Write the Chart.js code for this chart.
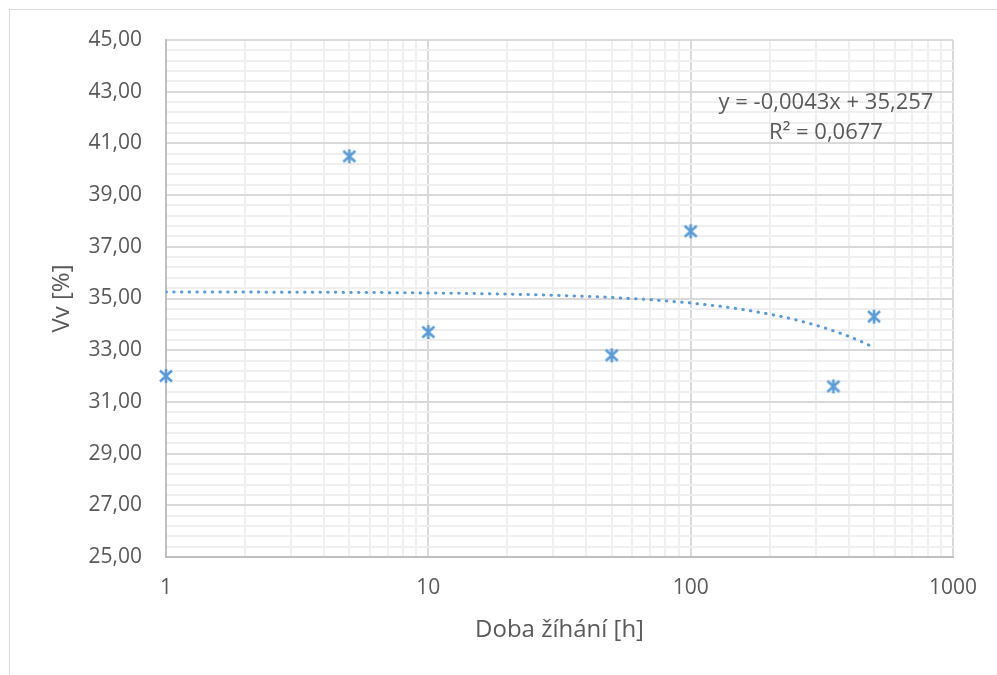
<!DOCTYPE html>
<html>
<head>
<meta charset="utf-8">
<script src="https://cdn.jsdelivr.net/npm/chart.js@4/dist/chart.umd.min.js"></script>
<style>
  html, body { margin: 0; padding: 0; background: #fff; }
  #frame { position: absolute; left: 9px; top: 9px; width: 1000px; height: 700px; border: 1px solid #d9d9d9; }
  #wrap { position: absolute; left: 0; top: 0; width: 997px; height: 675px; }
</style>
</head>
<body>
<div id="frame"></div>
<div id="wrap"><canvas id="chart" width="997" height="675"></canvas></div>
<script>
// Measured points (doba zihani vs Vv)
const xValues = [1, 5, 10, 50, 100, 350, 500];
const yValues = [32.0, 40.5, 33.7, 32.8, 37.6, 31.6, 34.3];

// Linear trendline shown on the chart
const trendSlope = -0.0043;
const trendIntercept = 35.257;
const trendX = [1, 2, 3, 5, 7, 10, 15, 20, 30, 40, 50, 70, 100, 130, 160, 200, 240, 280, 320, 360, 400, 450, 500];

// Axis ticks
const yMajorTicks = [25, 27, 29, 31, 33, 35, 37, 39, 41, 43, 45];
const yTickLabels = ['25,00', '27,00', '29,00', '31,00', '33,00', '35,00', '37,00', '39,00', '41,00', '43,00', '45,00'];
const xMajorTicks = [1, 10, 100, 1000];
const xTickLabels = ['1', '10', '100', '1000'];

const equationText = 'y = -0,0043x + 35,257';
const r2Text = 'R² = 0,0677';

const blue = '#5B9BD5';
const textGray = '#595959';
const fontFamily = '"Open Sans", "Noto Sans", sans-serif';

// star marker like Excel's "*"
function makeStar() {
    const c = document.createElement('canvas');
    c.width = 18; c.height = 18;
    const g = c.getContext('2d');
    g.strokeStyle = blue;
    g.lineWidth = 2.6;
    g.beginPath();
    g.moveTo(3, 3.5); g.lineTo(15, 14.5);
    g.moveTo(15, 3.5); g.lineTo(3, 14.5);
    g.moveTo(9, 2); g.lineTo(9, 16);
    g.stroke();
    return c;
}

const points = xValues.map((x, i) => ({ x: x, y: yValues[i] }));
const trend = trendX.map(x => ({ x: x, y: trendSlope * x + trendIntercept }));

// minor grid every 0.4 on y, 1..9 per decade on x
const yTicks = [];
for (let k = 0; k <= 50; k++) yTicks.push(Math.round((25 + k * 0.4) * 10) / 10);
const xTicks = [];
for (let d = 1; d <= 100; d *= 10) {
    for (let m = 1; m <= 9; m++) xTicks.push(m * d);
}
xTicks.push(1000);

function isMajor(list, v) {
    return list.some(t => Math.abs(t - v) < 1e-6);
}

const equationPlugin = {
    id: 'equation',
    afterDatasetsDraw(chart) {
        const ctx = chart.ctx;
        const area = chart.chartArea;
        ctx.save();
        ctx.fillStyle = textGray;
        ctx.font = '22px ' + fontFamily;
        ctx.textAlign = 'center';
        ctx.textBaseline = 'middle';
        ctx.fillText(equationText, area.right - 127, 103);
        ctx.fillText(r2Text, area.right - 127, 133);
        ctx.restore();
    }
};

const config = {
    type: 'scatter',
    data: {
        datasets: [{
            label: 'Vv',
            data: points,
            pointStyle: makeStar(),
            pointRadius: 8,
            clip: false,
            order: 1
        }, {
            label: 'trend',
            data: trend,
            showLine: true,
            borderColor: blue,
            borderWidth: 3,
            borderDash: [0.5, 7.2],
            borderCapStyle: 'round',
            pointRadius: 0,
            fill: false,
            order: 2
        }]
    },
    options: {
        responsive: false,
        animation: false,
        layout: { padding: { left: 38, top: 40, right: 44, bottom: 0 } },
        plugins: {
            legend: { display: false },
            tooltip: { enabled: false }
        },
        scales: {
            x: {
                type: 'logarithmic',
                min: 1,
                max: 1000,
                afterBuildTicks: s => { s.ticks = xTicks.map(v => ({ value: v })); },
                afterFit: s => { s.height = 118; },
                ticks: {
                    autoSkip: false,
                    maxRotation: 0,
                    padding: 18,
                    color: textGray,
                    font: { family: fontFamily, size: 21 },
                    callback: v => {
                        const i = xMajorTicks.findIndex(t => Math.abs(t - v) < 1e-6);
                        return i >= 0 ? xTickLabels[i] : '';
                    }
                },
                grid: {
                    drawTicks: false,
                    color: c => isMajor(xMajorTicks, c.tick.value) ? '#d9d9d9' : '#efefef',
                    lineWidth: 2
                },
                border: { display: true, color: '#bfbfbf', width: 2 },
                title: {
                    display: true,
                    text: 'Doba žíhání [h]',
                    color: textGray,
                    font: { family: fontFamily, size: 24 },
                    padding: { top: 0, bottom: 30 }
                }
            },
            y: {
                type: 'linear',
                min: 25,
                max: 45,
                afterBuildTicks: s => { s.ticks = yTicks.map(v => ({ value: v })); },
                afterFit: s => { s.width = 166 - 38; },
                ticks: {
                    autoSkip: false,
                    padding: 24,
                    color: textGray,
                    font: { family: fontFamily, size: 21 },
                    callback: v => {
                        const i = yMajorTicks.findIndex(t => Math.abs(t - v) < 1e-6);
                        return i >= 0 ? yTickLabels[i] : '';
                    }
                },
                grid: {
                    drawTicks: false,
                    color: c => isMajor(yMajorTicks, c.tick.value) ? '#d9d9d9' : '#efefef',
                    lineWidth: 2
                },
                border: { display: true, color: '#bfbfbf', width: 2 },
                title: {
                    display: true,
                    text: 'Vv [%]',
                    color: textGray,
                    font: { family: fontFamily, size: 24 },
                    padding: { top: 10, bottom: 0 }
                }
            }
        }
    },
    plugins: [equationPlugin]
};

const ctx = document.getElementById('chart').getContext('2d');
new Chart(ctx, config);
</script>
</body>
</html>
